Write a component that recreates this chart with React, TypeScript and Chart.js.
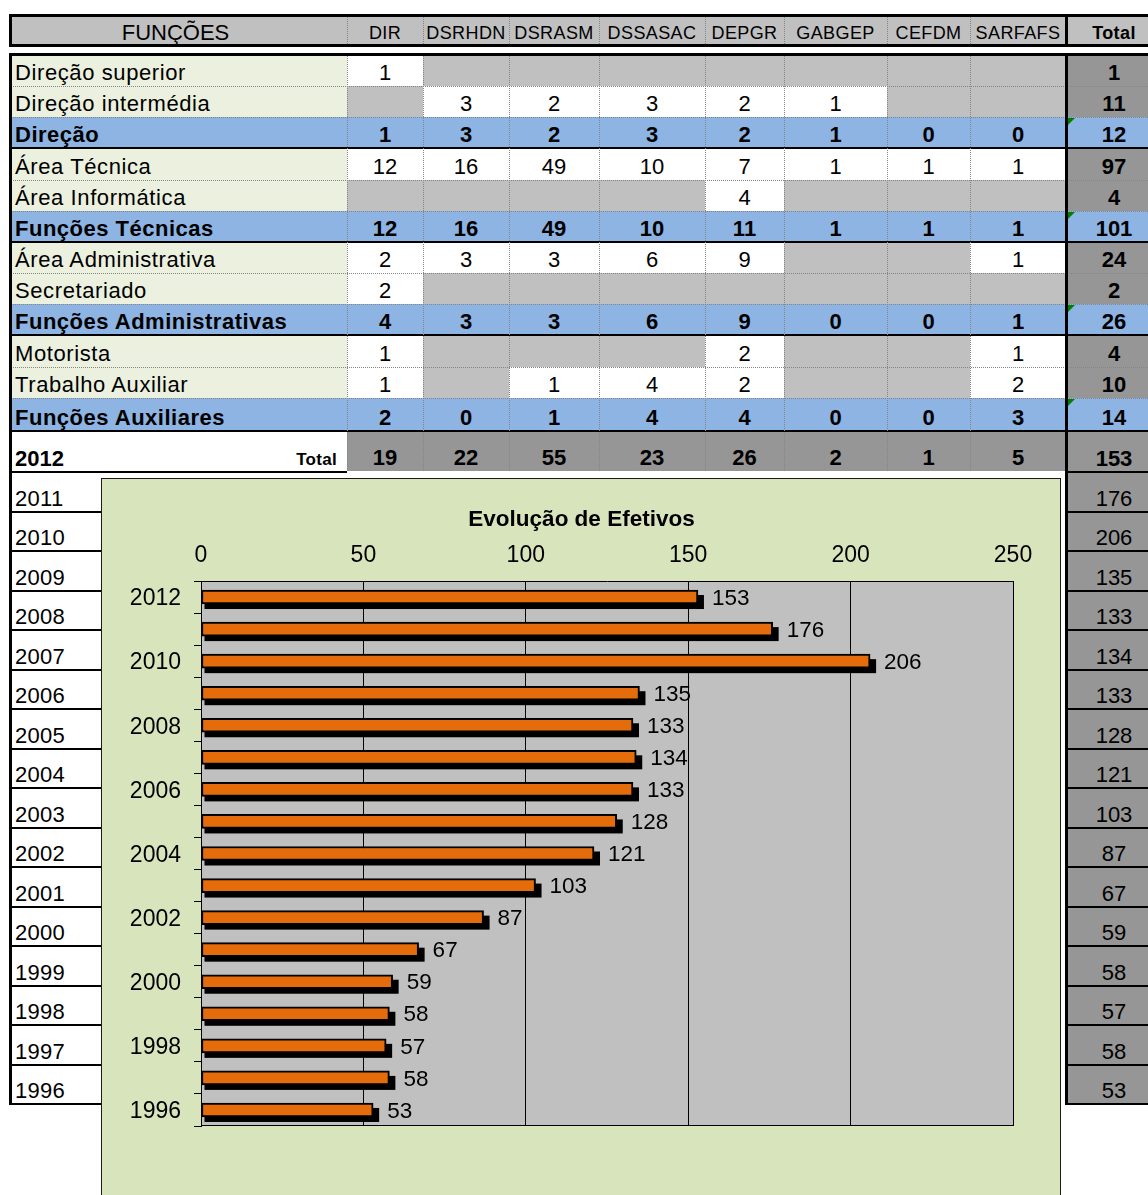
import React, { useEffect, useRef } from 'react';
import { Chart, registerables } from 'chart.js';

Chart.register(...registerables);

const FONT = '"Liberation Sans", Arial, Helvetica, sans-serif';

// ---------- DATA ----------
const HEADER_LABEL = 'FUNÇÕES';
const COLUMNS = ['DIR', 'DSRHDN', 'DSRASM', 'DSSASAC', 'DEPGR', 'GABGEP', 'CEFDM', 'SARFAFS'];
const TOTAL_HEADER = 'Total';

const ROW_LABELS = [
  'Direção superior',
  'Direção intermédia',
  'Direção',
  'Área Técnica',
  'Área Informática',
  'Funções Técnicas',
  'Área Administrativa',
  'Secretariado',
  'Funções Administrativas',
  'Motorista',
  'Trabalho Auxiliar',
  'Funções Auxiliares',
];
const ROW_IS_GROUP = [false, false, true, false, false, true, false, false, true, false, false, true];
const ROW_VALUES: (number | null)[][] = [
  [1, null, null, null, null, null, null, null],
  [null, 3, 2, 3, 2, 1, null, null],
  [1, 3, 2, 3, 2, 1, 0, 0],
  [12, 16, 49, 10, 7, 1, 1, 1],
  [null, null, null, null, 4, null, null, null],
  [12, 16, 49, 10, 11, 1, 1, 1],
  [2, 3, 3, 6, 9, null, null, 1],
  [2, null, null, null, null, null, null, null],
  [4, 3, 3, 6, 9, 0, 0, 1],
  [1, null, null, null, 2, null, null, 1],
  [1, null, 1, 4, 2, null, null, 2],
  [2, 0, 1, 4, 4, 0, 0, 3],
];
const ROW_TOTALS = [1, 11, 12, 97, 4, 101, 24, 2, 26, 4, 10, 14];

const CURRENT_YEAR = '2012';
const TOTAL_LABEL = 'Total';
const COLUMN_TOTALS = [19, 22, 55, 23, 26, 2, 1, 5];
const GRAND_TOTAL = 153;

const YEARS = ['2012', '2011', '2010', '2009', '2008', '2007', '2006', '2005', '2004', '2003', '2002', '2001', '2000', '1999', '1998', '1997', '1996'];
const EFETIVOS = [153, 176, 206, 135, 133, 134, 133, 128, 121, 103, 87, 67, 59, 58, 57, 58, 53];

const CHART_TITLE = 'Evolução de Efetivos';
const X_MIN = 0;
const X_MAX = 250;
const X_STEP = 50;

// ---------- LAYOUT ----------
const COL_EDGES = [10, 347, 423, 509, 599, 705, 784, 887, 970, 1066, 1162];
const ROW_EDGES = [55, 86, 117, 148, 180, 211, 242, 273, 304, 335, 367, 398, 431, 472];
const YEAR_TOP = 472;
const YEAR_H = 39.5;

const C_HEADER = '#C0C0C0';
const C_LABEL = '#EBF1DE';
const C_GROUP = '#8DB4E2';
const C_EMPTY = '#C0C0C0';
const C_FILLED = '#FFFFFF';
const C_TOTAL = '#969696';
const DOT = '1px dotted #858585';

type CellProps = {
  x0: number; x1: number; y0: number; y1: number;
  bg?: string; text?: string | number; bold?: boolean; size?: number;
  align?: 'left' | 'center' | 'right'; pad?: number; pb?: number; ls?: number;
};

function Cell(p: CellProps) {
  const size = p.size ?? 22;
  return (
    <div
      style={{
        position: 'absolute',
        left: p.x0,
        top: p.y0,
        width: p.x1 - p.x0,
        height: p.y1 - p.y0,
        background: p.bg,
        display: 'flex',
        alignItems: 'flex-end',
        justifyContent: p.align === 'left' ? 'flex-start' : p.align === 'right' ? 'flex-end' : 'center',
        paddingLeft: p.align === 'left' ? p.pad ?? 0 : 0,
        paddingRight: p.align === 'right' ? p.pad ?? 0 : 0,
        paddingBottom: p.pb ?? 1,
        boxSizing: 'border-box',
        fontSize: size,
        fontWeight: p.bold ? 'bold' : 'normal',
        letterSpacing: p.ls ? `${p.ls}px` : undefined,
        lineHeight: `${Math.round(size * 1.14)}px`,
        whiteSpace: 'nowrap',
      }}
    >
      {p.text}
    </div>
  );
}

function Line({ x, y, w, h, dotted }: { x: number; y: number; w: number; h: number; dotted?: 'v' | 'h' }) {
  if (dotted === 'v') {
    return <div style={{ position: 'absolute', left: x, top: y, width: 0, height: h, borderLeft: DOT }} />;
  }
  if (dotted === 'h') {
    return <div style={{ position: 'absolute', left: x, top: y, width: w, height: 0, borderTop: DOT }} />;
  }
  return <div style={{ position: 'absolute', left: x, top: y, width: w, height: h, background: '#000' }} />;
}

function EfetivosChart() {
  const ref = useRef<HTMLCanvasElement>(null);
  useEffect(() => {
    const canvas = ref.current;
    if (!canvas) return;

    const plotBg = {
      id: 'plotBg',
      beforeDraw(chart: any) {
        const { ctx, chartArea: a } = chart;
        ctx.save();
        ctx.fillStyle = '#C0C0C0';
        ctx.fillRect(a.left, a.top, a.right - a.left, a.bottom - a.top);
        ctx.restore();
      },
    };

    const barShadow = {
      id: 'barShadow',
      beforeDatasetsDraw(chart: any) {
        const { ctx, chartArea: a } = chart;
        ctx.save();
        ctx.strokeStyle = '#000';
        ctx.lineWidth = 1;
        ctx.beginPath();
        ctx.moveTo(a.left, a.bottom - 0.5);
        ctx.lineTo(a.right, a.bottom - 0.5);
        ctx.stroke();
        ctx.fillStyle = '#000';
        const meta = chart.getDatasetMeta(0);
        meta.data.forEach((el: any) => {
          const p = el.getProps(['x', 'y', 'base', 'height'], true);
          const top = p.y - p.height / 2 + 5;
          ctx.fillRect(p.base + 3, top, p.x - p.base + 3, p.height);
        });
        ctx.restore();
      },
    };

    const valueLabels = {
      id: 'valueLabels',
      afterDatasetsDraw(chart: any) {
        const { ctx } = chart;
        const meta = chart.getDatasetMeta(0);
        const data = chart.data.datasets[0].data as number[];
        ctx.save();
        ctx.font = `22.5px ${FONT}`;
        ctx.fillStyle = '#000';
        ctx.textAlign = 'left';
        ctx.textBaseline = 'middle';
        meta.data.forEach((el: any, i: number) => {
          const p = el.getProps(['x', 'y'], true);
          ctx.fillText(String(data[i]), p.x + 14, p.y + 1.5);
        });
        ctx.restore();
      },
    };

    const chart = new Chart(canvas, {
      type: 'bar',
      data: {
        labels: YEARS,
        datasets: [
          {
            data: EFETIVOS,
            backgroundColor: '#E46C0A',
            borderColor: '#000',
            borderWidth: 2,
            borderSkipped: false,
            barThickness: 14,
          },
        ],
      },
      options: {
        indexAxis: 'y',
        animation: false,
        responsive: false,
        devicePixelRatio: 1,
        layout: { padding: { left: 0, right: 0, top: 0, bottom: 69 } },
        plugins: {
          legend: { display: false },
          tooltip: { enabled: false },
          title: {
            display: true,
            text: CHART_TITLE,
            color: '#000',
            font: { family: FONT, size: 22.5, weight: 'bold', lineHeight: 1.2 },
            padding: { top: 28.5, bottom: 0 },
          },
        },
        scales: {
          x: {
            position: 'top',
            min: X_MIN,
            max: X_MAX,
            ticks: { stepSize: X_STEP, padding: 12, color: '#000', font: { family: FONT, size: 23 } },
            grid: { color: '#000', lineWidth: 1, drawTicks: false },
            border: { color: '#000', width: 1 },
            afterFit: (s: any) => {
              s.height = 103 - 28.5 - 27;
              s.paddingLeft = 0;
              s.paddingRight = 49;
            },
          },
          y: {
            ticks: {
              autoSkip: false,
              padding: 13,
              labelOffset: 2,
              color: '#000',
              font: { family: FONT, size: 23 },
              callback: (_v: any, i: number) => (i % 2 === 0 ? YEARS[i] : ''),
            },
            grid: { drawOnChartArea: false, drawTicks: true, tickLength: 7, color: '#000', offset: true },
            border: { color: '#000', width: 1 },
            afterFit: (s: any) => {
              s.width = 100;
              s.paddingTop = 0;
              s.paddingBottom = 0;
            },
          },
        },
      } as any,
      plugins: [plotBg, barShadow, valueLabels],
    });
    return () => chart.destroy();
  }, []);
  return (
    <canvas
      ref={ref}
      width={961}
      height={717}
      style={{ position: 'absolute', left: 101, top: 478, width: 961, height: 717 }}
    />
  );
}

export default function App() {
  const els: React.ReactNode[] = [];
  let k = 0;
  const key = () => `e${k++}`;

  // Header
  els.push(<div key={key()} style={{ position: 'absolute', left: 9, top: 14, width: 1139, height: 33, background: C_HEADER }} />);
  els.push(<Cell key={key()} x0={COL_EDGES[0]} x1={COL_EDGES[1] - 6} y0={14} y1={46} text={HEADER_LABEL} size={22} />);
  COLUMNS.forEach((c, j) => {
    els.push(<Cell key={key()} x0={COL_EDGES[j + 1]} x1={COL_EDGES[j + 2]} y0={14} y1={46} text={c} size={18} ls={0.4} pb={2.5} />);
  });
  els.push(<Cell key={key()} x0={COL_EDGES[9]} x1={COL_EDGES[10]} y0={14} y1={46} text={TOTAL_HEADER} size={18} ls={0.4} bold pb={2.5} />);
  for (let j = 1; j <= 8; j++) els.push(<Line key={key()} x={COL_EDGES[j]} y={17} w={0} h={27} dotted="v" />);
  els.push(<Line key={key()} x={9} y={14} w={1139} h={3} />);
  els.push(<Line key={key()} x={9} y={44} w={1139} h={3} />);
  els.push(<Line key={key()} x={9} y={14} w={3} h={33} />);
  els.push(<Line key={key()} x={1065} y={14} w={3} h={33} />);

  // Body rows
  ROW_LABELS.forEach((label, r) => {
    const y0 = ROW_EDGES[r];
    const y1 = ROW_EDGES[r + 1];
    const g = ROW_IS_GROUP[r];
    els.push(<Cell key={key()} x0={COL_EDGES[0]} x1={COL_EDGES[1]} y0={y0} y1={y1} bg={g ? C_GROUP : C_LABEL} text={label} bold={g} align="left" pad={5} ls={g ? 0.5 : 0.6} />);
    ROW_VALUES[r].forEach((v, j) => {
      els.push(
        <Cell key={key()} x0={COL_EDGES[j + 1]} x1={COL_EDGES[j + 2]} y0={y0} y1={y1}
          bg={g ? C_GROUP : v === null ? C_EMPTY : C_FILLED} text={v === null ? '' : v} bold={g} />
      );
    });
    els.push(<Cell key={key()} x0={COL_EDGES[9]} x1={COL_EDGES[10]} y0={y0} y1={y1} bg={g ? C_GROUP : C_TOTAL} text={ROW_TOTALS[r]} bold />);
  });

  // Total row
  {
    const y0 = ROW_EDGES[12];
    const y1 = ROW_EDGES[13];
    els.push(<Cell key={key()} x0={COL_EDGES[0]} x1={COL_EDGES[1]} y0={y0} y1={y1} bg="#fff" text={CURRENT_YEAR} bold align="left" pad={5} />);
    els.push(<Cell key={key()} x0={COL_EDGES[0]} x1={COL_EDGES[1]} y0={y0} y1={y1} text={TOTAL_LABEL} bold size={17} ls={0.3} align="right" pad={10} pb={3} />);
    COLUMN_TOTALS.forEach((v, j) => {
      els.push(<Cell key={key()} x0={COL_EDGES[j + 1]} x1={COL_EDGES[j + 2]} y0={y0} y1={y1 - 1} bg={C_TOTAL} text={v} bold />);
    });
    els.push(<Cell key={key()} x0={COL_EDGES[9]} x1={COL_EDGES[10]} y0={y0} y1={y1} bg={C_TOTAL} text={GRAND_TOTAL} bold />);
  }

  // Year history rows
  YEARS.slice(1).forEach((yr, i) => {
    const y0 = YEAR_TOP + YEAR_H * i;
    const y1 = y0 + YEAR_H;
    els.push(<Cell key={key()} x0={COL_EDGES[0]} x1={101} y0={y0} y1={y1} bg="#fff" text={yr} align="left" pad={5} ls={0.3} />);
    els.push(<Cell key={key()} x0={COL_EDGES[9]} x1={COL_EDGES[10]} y0={y0} y1={y1} bg={C_TOTAL} text={EFETIVOS[i + 1]} />);
  });

  // Grid lines of the body
  for (let e = 1; e <= 11; e++) {
    const prevGroup = ROW_IS_GROUP[e - 1];
    if (prevGroup) els.push(<Line key={key()} x={10} y={ROW_EDGES[e] - 1} w={1138} h={2} />);
    else els.push(<Line key={key()} x={10} y={ROW_EDGES[e]} w={1138} h={0} dotted="h" />);
  }
  els.push(<Line key={key()} x={10} y={ROW_EDGES[12] - 1} w={1138} h={2} />);
  for (let j = 1; j <= 8; j++) els.push(<Line key={key()} x={COL_EDGES[j]} y={ROW_EDGES[0]} w={0} h={ROW_EDGES[13] - ROW_EDGES[0] - 1} dotted="v" />);
  els.push(<Line key={key()} x={9} y={ROW_EDGES[13] - 1} w={COL_EDGES[1] - 9} h={2} />);
  els.push(<Line key={key()} x={1065} y={ROW_EDGES[13] - 1} w={83} h={2} />);
  for (let i = 1; i <= 16; i++) {
    const y = YEAR_TOP + YEAR_H * i - 1;
    els.push(<Line key={key()} x={9} y={y} w={92} h={2} />);
    els.push(<Line key={key()} x={1065} y={y} w={83} h={2} />);
  }
  els.push(<Line key={key()} x={9} y={53} w={1139} h={3} />);
  els.push(<Line key={key()} x={9} y={53} w={3} h={1052} />);
  els.push(<Line key={key()} x={1065} y={53} w={3} h={1052} />);

  // Excel-style green markers in group totals
  ROW_IS_GROUP.forEach((g, r) => {
    if (!g) return;
    els.push(
      <div key={key()} style={{ position: 'absolute', left: 1068, top: ROW_EDGES[r] + 1, width: 0, height: 0, borderTop: '7px solid #008000', borderRight: '7px solid transparent' }} />
    );
  });

  return (
    <div style={{ position: 'absolute', left: 0, top: 0, width: 1148, height: 1195, overflow: 'hidden', background: '#fff', fontFamily: FONT, color: '#000' }}>
      {els}
      <div style={{ position: 'absolute', left: 101, top: 478, width: 960, height: 740, background: '#D8E4BC', border: '1px solid #1a1a1a', boxSizing: 'border-box' }} />
      <EfetivosChart />
    </div>
  );
}
